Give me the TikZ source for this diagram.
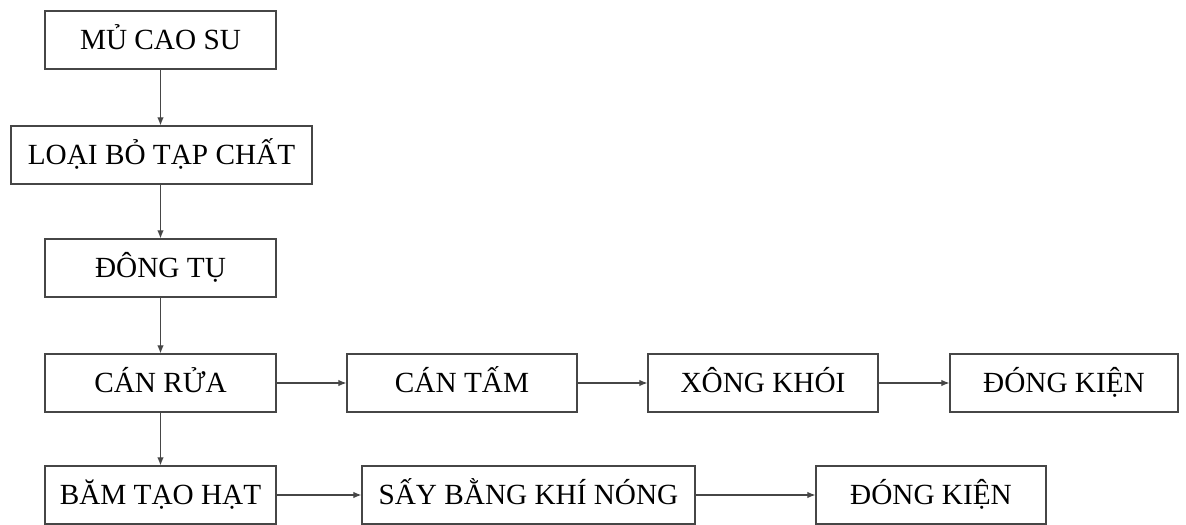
\documentclass[tikz,border=0pt]{standalone}
\usepackage{fontspec}
\setmainfont{Liberation Serif}
\usepackage{xcolor}
\usetikzlibrary{arrows.meta, positioning, calc}
\definecolor{border}{RGB}{70,70,70}

\begin{document}
\begin{tikzpicture}[
    x=0.025cm, y=-0.025cm,
    font=\fontsize{20.8}{24}\selectfont,
    box/.style={
        draw=border,
        line width=0.8pt,
        align=center,
        inner sep=0pt,
        text height=0.48cm,
        text depth=0pt,
        minimum width=5.775cm,
        minimum height=1.45cm
    },
    arrow/.style={
        -{Latex[length=2mm, width=1.6mm]},
        draw=border,
        line width=0.8pt
    }
]
\useasboundingbox (0,0) rectangle (1186,525);

% =========================
% Cot doc ben trai
% =========================
\node[box] (mucaosu) at (160.5,40) {MỦ CAO SU};
\node[box, minimum width=7.525cm] (loaibo) at (161.5,155) {LOẠI BỎ TẠP CHẤT};
\node[box] (dongtu) at (160.5,268) {ĐÔNG TỤ};
\node[box] (canrua) at (160.5,383) {CÁN RỬA};
\node[box] (bamhat) at (160.5,495) {BĂM TẠO HẠT};

% =========================
% Hang tren: cao su tam xong khoi
% =========================
\node[box, minimum width=5.75cm] (cantam) at (462,383) {CÁN TẤM};
\node[box, minimum width=5.75cm] (xongkhoi) at (763,383) {XÔNG KHÓI};
\node[box, minimum width=5.7cm] (dongkien1) at (1064,383) {ĐÓNG KIỆN};

% =========================
% Hang duoi: cao su khoi
% =========================
\node[box, minimum width=8.325cm] (saykhi) at (528.5,495) {SẤY BẰNG KHÍ NÓNG};
\node[box, minimum width=5.75cm] (dongkien2) at (931,495) {ĐÓNG KIỆN};

% =========================
% Frecce verticali
% =========================
\draw[arrow] (mucaosu.south) -- (mucaosu.south |- loaibo.north);
\draw[arrow] (mucaosu.south |- loaibo.south) -- (dongtu.north);
\draw[arrow] (dongtu.south) -- (canrua.north);
\draw[arrow] (canrua.south) -- (bamhat.north);

% =========================
% Frecce orizzontali
% =========================
\draw[arrow] (canrua.east) -- (cantam.west);
\draw[arrow] (cantam.east) -- (xongkhoi.west);
\draw[arrow] (xongkhoi.east) -- (dongkien1.west);

\draw[arrow] (bamhat.east) -- (saykhi.west);
\draw[arrow] (saykhi.east) -- (dongkien2.west);

\end{tikzpicture}
\end{document}
